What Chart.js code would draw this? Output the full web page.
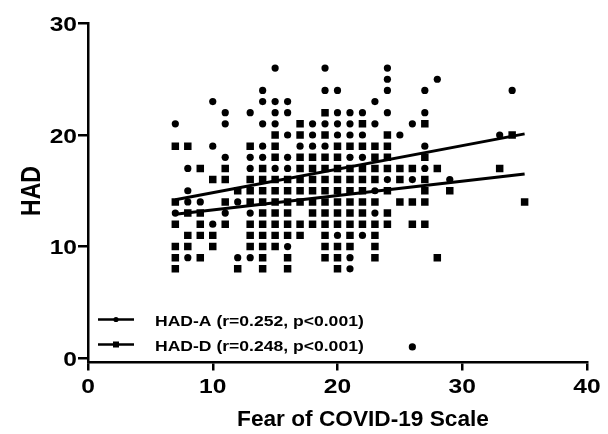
<!DOCTYPE html>
<html>
<head>
<meta charset="utf-8">
<script src="https://cdn.jsdelivr.net/npm/chart.js@4.4.1/dist/chart.umd.min.js"></script>
<style>
html, body { margin: 0; padding: 0; background: #fff; }
</style>
</head>
<body>
<canvas id="hadChart" width="608" height="434"></canvas>
<script>
// HAD-A (circles): [HAD score, FCV-19S values at that score]
var circleRows = [
    [26, [15, 19, 24]],
    [25, [24, 28]],
    [24, [14, 19, 20, 24, 27, 34]],
    [23, [10, 14, 15, 16, 23]],
    [22, [11, 13, 15, 16, 20, 21, 22, 24, 27]],
    [21, [7, 11, 14, 15, 18, 19, 20, 21, 23, 26]],
    [20, [16, 18, 20, 21, 22, 25, 33]],
    [19, [10, 14, 17, 18, 19, 27]],
    [18, [11, 13, 14, 16, 21, 22]],
    [17, [8, 13, 15, 16, 27]],
    [16, [24, 26, 29]],
    [15, [8, 23]],
    [14, [8, 9, 12]],
    [13, [7, 11, 13, 23]],
    [12, [10]],
    [11, [20, 22]],
    [10, [16]],
    [9, [8, 12, 13, 21]],
    [8, [21]],
    [1, [26]]
];

// HAD-D (squares)
var squareRows = [
    [22, [19]],
    [21, [17, 22, 27]],
    [20, [15, 17, 19, 24, 34]],
    [19, [7, 8, 13, 15, 20, 21, 22, 23, 24]],
    [18, [15, 17, 18, 19, 20, 23, 24, 27]],
    [17, [9, 11, 14, 17, 18, 19, 20, 21, 22, 23, 24, 25, 26, 28, 33]],
    [16, [10, 11, 13, 14, 15, 16, 17, 18, 19, 20, 21, 22, 23, 25, 27]],
    [15, [12, 13, 14, 15, 16, 17, 18, 19, 20, 21, 22, 24, 27, 29]],
    [14, [7, 11, 13, 14, 15, 16, 17, 18, 19, 20, 21, 22, 23, 25, 26, 27, 35]],
    [13, [8, 9, 14, 15, 16, 18, 19, 20, 21, 22, 24]],
    [12, [7, 9, 11, 13, 14, 15, 16, 17, 18, 19, 20, 21, 22, 23, 24, 26, 27]],
    [11, [8, 9, 10, 13, 14, 15, 16, 17, 19, 21, 23]],
    [10, [7, 8, 10, 13, 14, 15, 19, 20, 21, 23]],
    [9, [7, 9, 14, 16, 19, 20, 23, 28]],
    [8, [7, 12, 14, 16, 20]]
];

// regression lines
var fitX = [7, 35];
var hadAFit = [14.2, 20.1];
var hadDFit = [12.9, 16.5];

var xTicks = [0, 10, 20, 30, 40];
var yTicks = [0, 10, 20, 30];
var legendLabels = ['HAD-A (r=0.252, p<0.001)', 'HAD-D (r=0.248, p<0.001)'];
var xTitle = 'Fear of COVID-19 Scale';
var yTitle = 'HAD';

var FONT = '"Liberation Sans", Arial, sans-serif';
var STRETCH = 1.17; // reference text looks horizontally stretched

function rowsToPoints(rows) {
    var pts = [];
    rows.forEach(function(r) {
        r[1].forEach(function(x) { pts.push({ x: x, y: r[0] }); });
    });
    return pts;
}

function fitPoints(ys) {
    return fitX.map(function(x, i) { return { x: x, y: ys[i] }; });
}

function drawText(ctx, text, x, y, align, font, sx, sy, rot) {
    ctx.save();
    ctx.font = font;
    ctx.fillStyle = '#000';
    ctx.textAlign = align;
    ctx.textBaseline = 'alphabetic';
    ctx.translate(x, y);
    if (rot) ctx.rotate(rot);
    ctx.scale(sx, sy);
    ctx.fillText(text, 0, 0);
    ctx.restore();
}

var textPlugin = {
    id: 'textPlugin',
    afterDraw: function(chart) {
        var ctx = chart.ctx;
        var xs = chart.scales.x, ys = chart.scales.y;
        var tickFont = 'bold 21px ' + FONT;

        ys.ticks.forEach(function(t) {
            drawText(ctx, String(t.value), 77, ys.getPixelForValue(t.value) + 7.5, 'right', tickFont, STRETCH, 1);
        });
        xs.ticks.forEach(function(t) {
            drawText(ctx, String(t.value), xs.getPixelForValue(t.value), 393, 'center', tickFont, STRETCH, 1);
        });

        drawText(ctx, xTitle, 363, 426, 'center', 'bold 22px ' + FONT, 1.03, 1);
        drawText(ctx, yTitle, 40, 191, 'center', 'bold 23px ' + FONT, 1, STRETCH, -Math.PI / 2);

        // legend inside plot, bottom left
        var rowsY = [319.5, 344.5];
        ctx.save();
        ctx.strokeStyle = '#000';
        ctx.fillStyle = '#000';
        ctx.lineWidth = 2.5;
        rowsY.forEach(function(ly, i) {
            ctx.beginPath();
            ctx.moveTo(98, ly);
            ctx.lineTo(134, ly);
            ctx.stroke();
            if (i === 0) {
                ctx.beginPath();
                ctx.arc(116, ly, 2.6, 0, Math.PI * 2);
                ctx.fill();
            } else {
                ctx.fillRect(113, ly - 3, 6, 6);
            }
            drawText(ctx, legendLabels[i], 155, ly + 6.5, 'left', 'bold 15px ' + FONT, STRETCH, 1);
        });
        ctx.restore();
    }
};

var axisGrid = function(len) {
    return { display: true, drawOnChartArea: false, drawTicks: true, tickLength: len, color: '#000', lineWidth: 2.5 };
};

new Chart(document.getElementById('hadChart'), {
    type: 'scatter',
    data: {
        datasets: [
            {
                label: legendLabels[0], data: fitPoints(hadAFit), showLine: true,
                borderColor: '#000', borderWidth: 3, pointRadius: 0, order: 0
            },
            {
                label: legendLabels[1], data: fitPoints(hadDFit), showLine: true,
                borderColor: '#000', borderWidth: 3, pointRadius: 0, order: 0
            },
            {
                label: 'HAD-D', data: rowsToPoints(squareRows), pointStyle: 'rect',
                pointRadius: 5.3, backgroundColor: '#000', borderWidth: 0, order: 1
            },
            {
                label: 'HAD-A', data: rowsToPoints(circleRows), pointStyle: 'circle',
                pointRadius: 3.6, backgroundColor: '#000', borderWidth: 0, order: 2
            }
        ]
    },
    options: {
        responsive: false,
        animation: false,
        devicePixelRatio: 1,
        layout: { padding: { top: 23.5, right: 21, bottom: 0, left: 0 } },
        plugins: {
            legend: { display: false },
            tooltip: { enabled: false }
        },
        scales: {
            x: {
                type: 'linear', min: 0, max: 40,
                afterBuildTicks: function(s) { s.ticks = xTicks.map(function(v) { return { value: v }; }); },
                afterFit: function(s) { s.height = 71.5; },
                ticks: { display: false },
                grid: axisGrid(8),
                border: { display: true, color: '#000', width: 2.5 }
            },
            y: {
                type: 'linear', min: -0.4, max: 30,
                afterBuildTicks: function(s) { s.ticks = yTicks.map(function(v) { return { value: v }; }); },
                afterFit: function(s) { s.width = 88; },
                ticks: { display: false },
                grid: axisGrid(10),
                border: { display: true, color: '#000', width: 2.5 }
            }
        }
    },
    plugins: [textPlugin]
});
</script>
</body>
</html>
